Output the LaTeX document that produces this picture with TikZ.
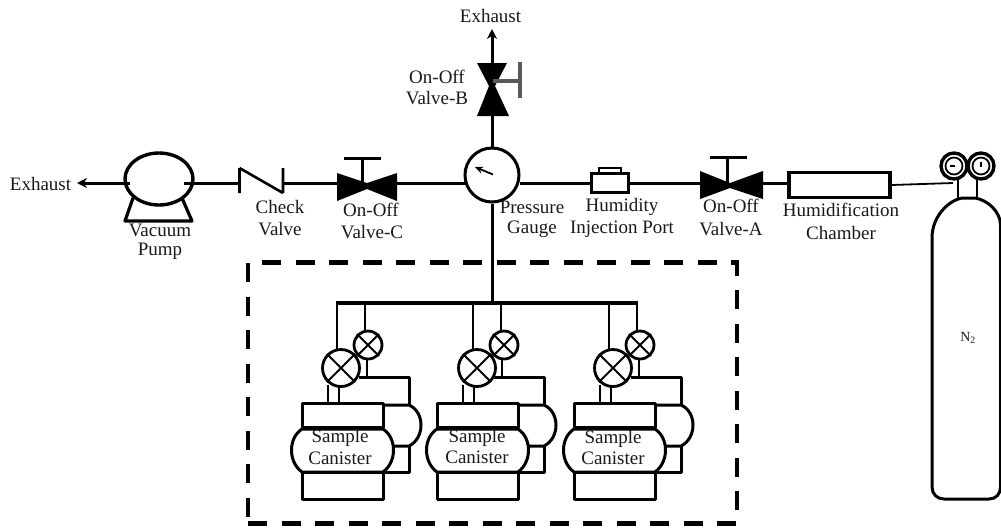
\documentclass[tikz,border=0pt]{standalone}
\usepackage{fontspec}
\setmainfont{Liberation Serif}
\usetikzlibrary{arrows.meta}
\tikzset{
  pipe/.style={line width=3pt,draw=black},
  thin pipe/.style={line width=2pt,draw=black},
  outl/.style={line width=3.2pt,draw=black,line join=round},
  tip/.style={-{Stealth[length=10pt,width=10pt]}},
  lbl/.style={font=\fontsize{19}{22}\selectfont,inner sep=0pt,text=black!90},
  pt/.style={coordinate},
  can/.style={line width=3pt,draw=black,line join=round},
  dial/.style={circle,draw=black,line width=2.8pt,inner sep=0pt,minimum size=#1},
}
\newcommand{\cross}[1]{\draw[line width=1.8pt] (#1.45) -- (#1.225) (#1.135) -- (#1.315);}
% #1 prefix, #2 x-offset front/body, #3 x-offset of header and valves
\newcommand{\canister}[3]{
  \begin{scope}[xshift=#2pt]
    % rear canister
    \draw[can] (359,377) -- (409,377) -- (409,405);
    \draw[can] (383,405) -- (409,405) .. controls (425,412) and (425,438) .. (409,446) -- (393,446);
    \draw[can] (409,446) -- (409,472) -- (383,472);
    % front canister
    \draw[can] (302,403) rectangle (383,427);
    \draw[can] (302,429) .. controls (288,438) and (288,462) .. (302,472) -- (383,472) .. controls (397,462) and (397,438) .. (383,429) -- cycle;
    \draw[can] (302,472) rectangle (383,499);
    \draw[thin pipe] (328,385) -- (328,403) (339,385) -- (339,403);
    \draw[thin pipe] (367,359) -- (367,377);
  \end{scope}
  \begin{scope}[xshift=#3pt]
    \node[dial=37pt,fill=white] (#1big) at (341,368) {};
    \node[dial=28pt,fill=white] (#1small) at (368,345) {};
    \cross{#1big}
    \cross{#1small}
    \node[pt] (#1hb) at (337,303) {};
    \node[pt] (#1hs) at (365,303) {};
    \draw[thin pipe] (#1hb) -- (337,351);
    \draw[thin pipe] (#1hs) -- (365,331);
  \end{scope}
}
\begin{document}
\begin{tikzpicture}[x=1pt,y=-1pt]
\useasboundingbox (0,0) rectangle (1001,528);

% dashed enclosure
\node[draw=black,line width=4.5pt,dash pattern=on 19pt off 14.5pt,minimum width=489pt,minimum height=261pt,inner sep=0pt] (box) at (492.5,393) {};

% pump
\node[pt] (pumpL) at (130,183) {};
\node[pt] (pumpR) at (184,183) {};
\node[pt] (exL) at (77,183) {};
\draw[outl] (133,198) -- (125,221) -- (192,221) -- (182,198);
\draw[line width=3.4pt,fill=white] (159,179) ellipse [x radius=34,y radius=26];
\draw[pipe,tip] (pumpL) -- (exL);

% check valve
\node[pt] (ckL) at (239.5,183) {};
\node[pt] (ckR) at (283,183) {};
\draw[line width=2.6pt] (239.5,168) -- (239.5,193) (239.5,168) -- (283,193) (283,168) -- (283,193);
\draw[pipe] (pumpR) -- (ckL);

% valve C
\node[pt] (vcL) at (338,183) {};
\node[pt] (vcR) at (396,183) {};
\fill (337,173) -- (367,183) -- (397,173) -- (397,201) -- (367,189) -- (337,201) -- cycle;
\draw[pipe] (362,186) -- (362,158);
\draw[line width=3pt] (344,158) -- (381,158);
\draw[pipe] (ckR) -- (vcL);

% gauge
\node[circle,draw=black,line width=3pt,minimum size=54pt,inner sep=0pt,fill=white] (gauge) at (492,175) {};
\draw[line width=1.8pt,-{Stealth[length=8pt,width=7pt]}] (493,174.5) -- (475,167);
\draw[pipe] (vcR) -- (465,183);
\draw[pipe] (gauge.south) -- (492,303);

% valve B
\node[pt] (vbB) at (492,116) {};
\node[pt] (vbT) at (492,63) {};
\node[pt] (exT) at (492,29) {};
\fill (477,63) -- (507,63) -- (495,86) -- (509,116) -- (477,116) -- (489,86) -- cycle;
\draw[pipe] (gauge.north) -- (vbB);
\draw[pipe,tip] (vbT) -- (exT);
\draw[line width=3.5pt,draw=black!65] (493,81) -- (520,81);
\draw[line width=4.5pt,draw=black!65] (520,62) -- (520,98);

% injection port
\node[draw=black,line width=3pt,minimum width=37pt,minimum height=19pt,inner sep=0pt] (port) at (610,183) {};
\draw[line width=2.6pt] (599,173) -- (599,168) -- (621,168) -- (621,173);
\node[pt] (gaugeR) at (520,183) {};
\draw[pipe] (gaugeR) -- (port.west);

% valve A
\node[pt] (vaL) at (701,183) {};
\node[pt] (vaR) at (755,183) {};
\fill (700,171) -- (730,183) -- (763,171) -- (763,199) -- (730,188) -- (700,199) -- cycle;
\draw[pipe] (727,183) -- (727,157);
\draw[line width=3pt] (710,157) -- (747,157);
\draw[pipe] (port.east) -- (vaL);

% humidification chamber
\node[draw=black,line width=3.2pt,minimum width=101pt,minimum height=25pt,inner sep=0pt] (chamber) at (839.5,185) {};
\draw[pipe] (vaR) -- (chamber.west |- vaR);

% N2 cylinder
\draw[line width=3pt,line join=round] (932,487) -- (932,238) .. controls (932,215) and (950,200) .. (962,198) -- (975,198) .. controls (988,200) and (1000.5,212) .. (1000.5,225) -- (1000.5,487) .. controls (1000.5,494) and (996,499) .. (989,499) -- (944,499) .. controls (937,499) and (932,494) .. (932,487) -- cycle;
\draw[line width=2.6pt] (958,178) -- (958,198) (977,178) -- (977,198);
\node[dial=26pt,line width=3.4pt,fill=white] (g1) at (954,166) {};
\node[dial=26pt,line width=3.4pt,fill=white] (g2) at (981,166) {};
\node[dial=17pt,line width=1.8pt] (g1i) at (954,166) {};
\node[dial=17pt,line width=1.8pt] (g2i) at (981,166) {};
\draw[line width=1.5pt] (950,166) -- (955,166) (981,161.5) -- (981,166.5);
\node[pt] (regIn) at (953,183) {};
\draw[line width=1.8pt] (chamber.east) -- (regIn);
\node[font=\fontsize{14}{16}\selectfont,inner sep=0pt,text=black!90] (n2) at (968,338) {N\textsubscript{2}};

% header
\node[pt] (hL) at (336,303) {};
\node[pt] (hR) at (638,303) {};
\draw[line width=3.2pt] (hL) -- (hR);

\canister{a}{0}{0}
\canister{b}{135}{136}
\canister{c}{272}{272}

% labels
\node[lbl] (t1) at (40.5,184) {Exhaust};
\node[lbl] (t2) at (490.5,16) {Exhaust};
\node[lbl] (t3) at (160,230) {Vacuum};
\node[lbl] (t4) at (160,251) {Pump};
\node[lbl] (t5) at (280,207) {Check};
\node[lbl] (t6) at (280,229) {Valve};
\node[lbl] (t7) at (371,210) {On-Off};
\node[lbl] (t8) at (372,232) {Valve-C};
\node[lbl] (t9) at (437,77) {On-Off};
\node[lbl] (t10) at (437,98) {Valve-B};
\node[lbl] (t11) at (532,207) {Pressure};
\node[lbl] (t12) at (532,229) {Gauge};
\node[lbl] (t13) at (622,207) {Humidity};
\node[lbl] (t14) at (622,229) {Injection Port};
\node[lbl] (t15) at (731,206) {On-Off};
\node[lbl] (t16) at (731,229) {Valve-A};
\node[lbl] (t17) at (841,210) {Humidification};
\node[lbl] (t18) at (841,233) {Chamber};
\node[lbl] (t19) at (340,438) {Sample};
\node[lbl] (t20) at (340,458) {Canister};
\node[lbl] (t21) at (477,438) {Sample};
\node[lbl] (t22) at (477,457) {Canister};
\node[lbl] (t23) at (613,439) {Sample};
\node[lbl] (t24) at (613,458) {Canister};
\end{tikzpicture}
\end{document}
